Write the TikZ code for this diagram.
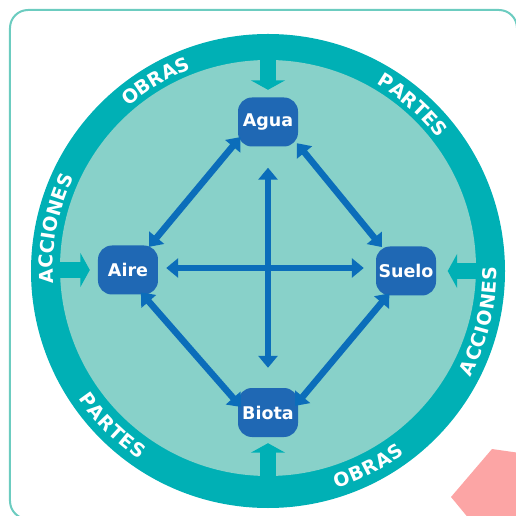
\documentclass[tikz,border=0pt]{standalone}
\usepackage{fontspec}
\setsansfont{DejaVu Sans}
\usetikzlibrary{arrows.meta}

\definecolor{ringteal}{HTML}{00B0B5}
\definecolor{innerteal}{HTML}{88D1C9}
\definecolor{boxblue}{HTML}{1F68B4}
\definecolor{linkblue}{HTML}{0B6DBA}
\definecolor{framegreen}{HTML}{6CCCC0}
\definecolor{pinkish}{HTML}{FCA5A5}

\tikzset{
 box/.style={fill=boxblue, rounded corners=14pt, minimum width=60pt, minimum height=49pt,
   inner sep=0pt, text=white, font=\sffamily\bfseries\fontsize{17.5}{20}\selectfont},
 link/.style={draw=linkblue, line width=6.5pt,
   {Triangle[width=19pt,length=12pt]}-{Triangle[width=19pt,length=12pt]}},
 inflow/.style={draw=ringteal, line width=16pt, -{Triangle[width=34pt,length=9.5pt]}},
 ringletter/.style={text=white, inner sep=0pt, font=\sffamily\bfseries\fontsize{19}{19}\selectfont},
}

\begin{document}
\begin{tikzpicture}[x=1pt,y=1pt]
\useasboundingbox (-268,270) rectangle (247,-246);

\newcommand{\ringword}[4] % [mid angle][direction][radius][letter/width]
{
 \gdef\wordlen{-0.5}
 \foreach \ch/\w in {#4}
  {\pgfmathparse{\wordlen+19*\w+0.5}\xdef\wordlen{\pgfmathresult}}
 \gdef\wordpos{0}
 \foreach \ch/\w in {#4}
 {
  \pgfmathsetmacro\ang{#1+(#2)*(\wordpos+9.5*\w-\wordlen/2)/#3*180/pi}
  \node[ringletter, rotate={\ang+(#2)*90}] at (\ang:#3) {\ch};
  \pgfmathparse{\wordpos+19*\w+0.5}\xdef\wordpos{\pgfmathresult}
 }
}

% frame and corner piece
\draw[framegreen, line width=2pt, rounded corners=18pt] (-258,260) rectangle (249,-249);
\fill[pinkish] (224,-179) -- (252,-183) -- (252,-250) -- (202,-250) -- (183,-227) -- cycle;

% ring
\fill[ringteal] (0,-1) circle (237);
\fill[innerteal] (0,2) circle (208);

\ringword{120.75}{-1}{222}{O/.850,B/.762,R/.770,A/.774,S/.720}
\ringword{48.75}{-1}{222}{P/.733,A/.774,R/.770,T/.682,E/.683,S/.720}
\ringword{169}{-1}{222}{A/.774,C/.734,C/.734,I/.372,O/.850,N/.837,E/.683,S/.720}
\ringword{-13.5}{1}{222}{A/.774,C/.734,C/.734,I/.372,O/.850,N/.837,E/.683,S/.720}
\ringword{-63}{1}{222}{O/.850,B/.762,R/.770,A/.774,S/.720}
\ringword{225}{1}{222}{P/.733,A/.774,R/.770,T/.682,E/.683,S/.720}

% components
\node[box] (agua) at (0,148) {Agua};
\node[box] (aire) at (-140,0) {Aire};
\node[box] (suelo) at (138,-1) {Suelo};
\node[box] (biota) at (0,-142.5) {Biota};

\coordinate (rn) at (0,212);
\coordinate (rw) at (-210,0);
\coordinate (re) at (210,-1);
\coordinate (rs) at (0,-208);

\draw[inflow, shorten >=7.5pt] (rn) -- (agua);
\draw[inflow, shorten >=8pt] (rw) -- (aire);
\draw[inflow, shorten >=11.5pt] (re) -- (suelo);
\draw[inflow, shorten >=6pt] (rs) -- (biota);

% links
\draw[link, shorten <=21pt, shorten >=20pt] (agua) -- (biota);
\draw[link, shorten <=8pt, shorten >=12pt] ([yshift=2pt]aire.east) -- ([yshift=3pt]suelo.west);
\draw[link, shorten <=-4pt, shorten >=-2pt] (agua.211) -- (aire.48);
\draw[link, shorten <=-2pt, shorten >=-1pt] (agua.323) -- (suelo.135);
\draw[link, shorten <=-3pt, shorten >=-5pt] (aire.-59) -- (biota.163);
\draw[link, shorten <=-3pt, shorten >=-5pt] (suelo.233) -- (biota.19);

\end{tikzpicture}
\end{document}
